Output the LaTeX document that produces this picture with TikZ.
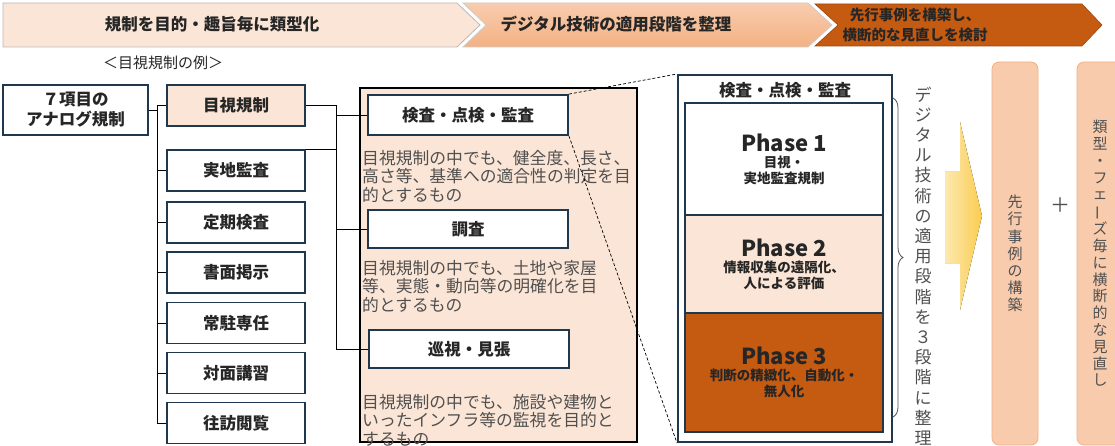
\documentclass[tikz,border=0pt]{standalone}
\usepackage{fontspec}
\setmainfont{Noto Sans CJK JP}
\usetikzlibrary{decorations.pathreplacing}

\definecolor{boxblue}{RGB}{31,56,78}
\definecolor{peach}{RGB}{251,229,214}
\definecolor{midorange}{RGB}{244,177,131}
\definecolor{darkorange}{RGB}{197,90,17}
\definecolor{sidepeach}{RGB}{248,203,173}
\definecolor{txtdark}{RGB}{38,38,38}
\definecolor{txtgray}{RGB}{80,80,80}
\definecolor{arrowyel}{RGB}{250,205,80}

\begin{document}
\begin{tikzpicture}[x=1pt, y=-1pt,
    regbox/.style={draw=boxblue, line width=1.8pt, fill=white, minimum width=138pt, minimum height=41pt,
        inner sep=0pt, text=txtdark, font=\bfseries\fontsize{16.5}{20}\selectfont},
    subbox/.style={regbox, minimum width=200pt, minimum height=40pt},
    fasebox/.style={draw=boxblue, line width=1.8pt, minimum width=198pt, inner sep=0pt, align=center,
        text=txtdark, font=\bfseries\fontsize{13.5}{16}\selectfont},
    desc/.style={anchor=north west, inner sep=0pt, align=left, text=txtgray,
        font=\fontsize{16.8}{18.5}\selectfont},
    bantxt/.style={text=txtdark, align=center, font=\bfseries\fontsize{16.5}{20}\selectfont},
    verttxt/.style={align=center, inner sep=0pt, text=txtgray},
    latobox/.style={draw=midorange, line width=0.8pt, fill=sidepeach, rounded corners=7pt,
        minimum width=46pt, minimum height=383pt, inner sep=0pt},
    conn/.style={draw=black, line width=0.9pt},
    tratto/.style={draw=black, line width=0.7pt, dash pattern=on 3pt off 2pt},
    graffa/.style={draw=txtgray, line width=0.8pt, decorate, decoration={brace, amplitude=10pt}}]

    \useasboundingbox (0,0) rectangle (1115,446);

    % Frecce in alto
    \path[fill=peach, draw=gray!55, line width=0.8pt]
        (3,3) -- (457,3) -- (480,25) -- (457,47) -- (3,47) -- cycle;
    \path[top color=midorange!65, bottom color=midorange, draw=gray!40, line width=0.8pt]
        (463,3) -- (808,3) -- (832,25) -- (808,47) -- (463,47) -- (486,25) -- cycle;
    \path[fill=darkorange, draw=darkorange!80!black, line width=0.6pt]
        (815,4) -- (1082,4) -- (1102,25) -- (1082,46) -- (815,46) -- (838,25) -- cycle;
    \node[bantxt] (ban1) at (212,24) {規制を目的・趣旨毎に類型化};
    \node[bantxt] (ban2) at (616,24) {デジタル技術の適用段階を整理};
    \node[bantxt, font=\bfseries\fontsize{14.5}{20}\selectfont] (ban3) at (915,25)
        {先行事例を構築し、\\横断的な見直しを検討};

    \node[text=txtdark, font=\fontsize{15}{18}\selectfont] (esempio) at (163,63) {＜目視規制の例＞};

    % Albero di sinistra
    \node[regbox, minimum width=145pt, minimum height=50pt, align=center] (analog) at (75.5,110)
        {７項目の\\アナログ規制};
    \node[regbox, fill=peach] (mokushi) at (236,105.5) {目視規制};
    \foreach \nome/\y/\testo in {jicchi/170.5/実地監査, teiki/222.5/定期検査, shomen/272.5/書面掲示,
            jochu/323/常駐専任, taimen/373/対面講習, ohou/423/往訪閲覧} {
            \node[regbox] (\nome) at (236,\y) {\testo};
        }

    \coordinate (tronco) at (157,105.5);
    \coordinate (ramo) at (336,349);
    \draw[conn] (analog.east) -- (analog.east -| tronco);
    \draw[conn] (tronco) -- (tronco |- ohou.west);
    \foreach \nome in {mokushi,jicchi,teiki,shomen,jochu,taimen,ohou} {
            \draw[conn] (\nome.west) -- (\nome.west -| tronco);
        }

    % Riquadro centrale
    \node[draw=black, line width=2pt, fill=peach, minimum width=277pt, minimum height=354pt,
        inner sep=0pt] (gruppo) at (498.5,265) {};

    \draw[conn] (mokushi.east) -| (ramo);
    \draw[conn] (jicchi.north east) -- (jicchi.north east -| ramo);

    \node[subbox] (kensa) at (468,115) {検査・点検・監査};
    \node[subbox, minimum height=38pt] (chosa) at (468,229) {調査};
    \node[subbox, minimum height=38pt] (junshi) at (469,349) {巡視・見張};
    \foreach \nome in {kensa,chosa,junshi} {
            \draw[conn] (\nome.west) -- (\nome.west -| ramo);
        }

    \node[desc] (desc1) at (362,150) {目視規制の中でも、健全度、長さ、\\高さ等、基準への適合性の判定を目\\的とするもの};
    \node[desc] (desc2) at (362,260) {目視規制の中でも、土地や家屋\\等、実態・動向等の明確化を目\\的とするもの};
    \node[desc] (desc3) at (362,394) {目視規制の中でも、施設や建物と\\いったインフラ等の監視を目的と\\するもの};

    % Fasi
    \node[draw=boxblue, line width=2pt, fill=white, minimum width=214pt, minimum height=367pt,
        inner sep=0pt] (fasi) at (785,258.5) {};
    \node[bantxt] (fasetit) at (785,90) {検査・点検・監査};
    \node[fasebox, fill=white, minimum height=112pt] (fase1) at (784,159)
        {{\fontsize{22}{26}\selectfont Phase 1}\\目視・\\実地監査規制};
    \node[fasebox, fill=peach, minimum height=98pt] (fase2) at (784,264)
        {{\fontsize{22}{26}\selectfont Phase 2}\\情報収集の遠隔化、\\人による評価};
    \node[fasebox, fill=darkorange, minimum height=119pt] (fase3) at (784,372.5)
        {{\fontsize{22}{26}\selectfont Phase 3}\\判断の精緻化、自動化・\\無人化};

    \draw[tratto] (kensa.north east) -- (fasi.north west);
    \draw[tratto] (kensa.south east) -- (fasi.south west);

    \coordinate (g1) at (893,98);
    \coordinate (g2) at (893,417);
    \draw[graffa] (g1) -- (g2);

    \node[verttxt, font=\fontsize{17}{20.2}\selectfont] (passi) at (923,266)
        {デ\\ジ\\タ\\ル\\技\\術\\の\\適\\用\\段\\階\\を\\３\\段\\階\\に\\整\\理};

    % Freccia gialla
    \fill[left color=arrowyel!45, right color=arrowyel]
        (945,172) -- (960,172) -- (960,122) -- (982,216) -- (960,310) -- (960,263) -- (945,263) -- cycle;

    % Riquadri a destra
    \node[latobox, verttxt, font=\fontsize{15}{17.2}\selectfont] (precedenti) at (1015,253.5)
        {先\\行\\事\\例\\の\\構\\築};
    \node[text=txtgray, font=\fontsize{20}{20}\selectfont] (piu) at (1060,205) {＋};
    \node[latobox, verttxt, font=\fontsize{15}{16.8}\selectfont] (revisione) at (1100,253.5)
        {類\\型\\・\\フ\\ェ\\\rotatebox[origin=c]{90}{ー}\\ズ\\毎\\に\\横\\断\\的\\な\\見\\直\\し};
\end{tikzpicture}
\end{document}
